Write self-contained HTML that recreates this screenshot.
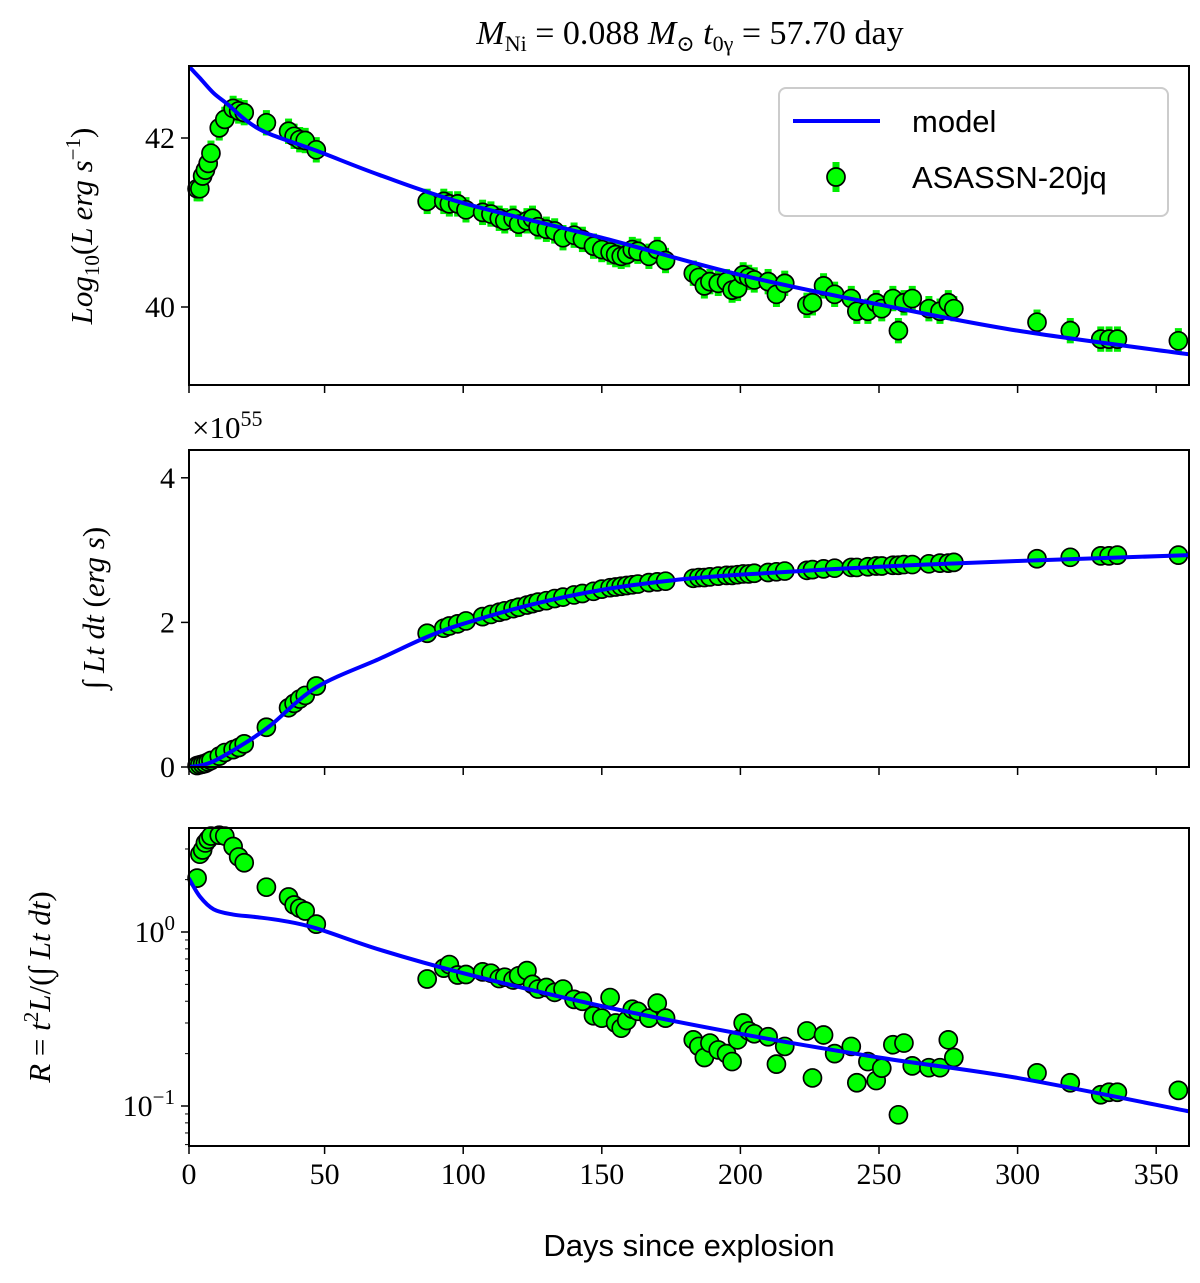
<!DOCTYPE html>
<html><head><meta charset="utf-8"><style>
body{margin:0;background:#fff}
svg text{font-family:"Liberation Serif","DejaVu Serif",serif;fill:#000}
</style></head><body>
<svg id="fig" width="1200" height="1278" viewBox="0 0 1200 1278" xmlns="http://www.w3.org/2000/svg">
<g id="g1"></g>
<g id="g2"></g>
<g id="g3"></g>
<text x="690" y="44" font-size="34" text-anchor="middle"><tspan font-style="italic">M</tspan><tspan font-size="22" dy="7">Ni</tspan><tspan dy="-7"> = 0.088 </tspan><tspan font-style="italic">M</tspan><tspan font-size="22" dy="7">⊙</tspan><tspan dy="-7">   </tspan><tspan font-style="italic">t</tspan><tspan font-size="22" dy="7">0γ</tspan><tspan dy="-7"> = 57.70 day</tspan></text>
<text x="689" y="1256" font-size="31" text-anchor="middle" style="font-family:'Liberation Sans',sans-serif">Days since explosion</text>
<text transform="translate(92,226) rotate(-90)" font-size="31" text-anchor="middle"><tspan font-style="italic">Log</tspan><tspan font-size="21" dy="7">10</tspan><tspan dy="-7">(</tspan><tspan font-style="italic">L erg s</tspan><tspan font-size="21" dy="-12">−1</tspan><tspan dy="12">)</tspan></text>
<text transform="translate(104,608) rotate(-90)" font-size="31" text-anchor="middle">∫ <tspan font-style="italic">Lt dt</tspan> (<tspan font-style="italic">erg s</tspan>)</text>
<text transform="translate(50,987) rotate(-90)" font-size="31" text-anchor="middle"><tspan font-style="italic">R</tspan> = <tspan font-style="italic">t</tspan><tspan font-size="21" dy="-12">2</tspan><tspan dy="12" font-style="italic">L</tspan>/(∫ <tspan font-style="italic">Lt dt</tspan>)</text>
<text x="192" y="438" font-size="31">×10<tspan font-size="22" dy="-12">55</tspan></text>
</svg>
<script>
const days=[4,5,6,7,8,9,12,14,17,19,21,29,37,39,41,43,47,87,93,95,98,101,107,110,113,115,118,120,123,125,127,130,133,136,140,143,147,150,153,155,157,159,161,163,167,170,173,183,185,187,189,192,195,197,199,201,203,205,210,213,216,224,226,230,234,240,242,246,249,251,255,257,259,262,268,272,275,277,307,319,330,333,336,358];
const logL=[41.40,41.40,41.55,41.62,41.70,41.82,42.12,42.22,42.35,42.32,42.30,42.18,42.08,42.02,41.98,41.97,41.86,41.25,41.25,41.22,41.22,41.15,41.12,41.10,41.05,41.02,41.05,40.98,41.02,41.05,40.95,40.92,40.90,40.82,40.85,40.80,40.72,40.68,40.65,40.62,40.60,40.62,40.68,40.66,40.60,40.68,40.55,40.40,40.35,40.25,40.30,40.28,40.30,40.20,40.22,40.38,40.35,40.32,40.30,40.15,40.28,40.02,40.05,40.25,40.15,40.10,39.95,39.95,40.05,39.98,40.10,39.72,40.05,40.10,39.98,39.95,40.05,39.98,39.82,39.72,39.62,39.62,39.62,39.60];
const intLt=[0.02,0.03,0.04,0.05,0.07,0.09,0.15,0.2,0.24,0.27,0.32,0.55,0.82,0.88,0.94,0.99,1.12,1.85,1.92,1.95,1.98,2.02,2.08,2.11,2.14,2.16,2.19,2.21,2.24,2.26,2.28,2.3,2.33,2.35,2.38,2.4,2.43,2.46,2.48,2.49,2.5,2.51,2.52,2.53,2.55,2.56,2.57,2.61,2.62,2.62,2.63,2.64,2.65,2.65,2.66,2.67,2.67,2.68,2.69,2.7,2.71,2.72,2.73,2.74,2.75,2.76,2.76,2.77,2.78,2.78,2.79,2.79,2.8,2.8,2.81,2.82,2.82,2.83,2.88,2.9,2.92,2.92,2.93,2.93];
const ratioR=[2.04,2.8,2.96,3.25,3.4,3.56,3.6,3.56,3.1,2.7,2.5,1.81,1.59,1.43,1.37,1.32,1.11,0.537,0.62,0.65,0.566,0.57,0.59,0.58,0.54,0.55,0.53,0.56,0.6,0.5,0.47,0.48,0.45,0.47,0.41,0.40,0.33,0.32,0.42,0.30,0.28,0.31,0.36,0.35,0.32,0.39,0.32,0.24,0.22,0.19,0.23,0.21,0.20,0.18,0.24,0.30,0.27,0.26,0.25,0.174,0.22,0.27,0.145,0.256,0.2,0.22,0.136,0.18,0.14,0.165,0.225,0.089,0.23,0.17,0.166,0.166,0.24,0.19,0.155,0.136,0.116,0.12,0.12,0.123];
const logLErr=[0.15];
const modelDays1=[1,3,5,10,15,22,30,47,70,100,150,200,250,300,362];
const modelLogL=[42.85,42.78,42.71,42.53,42.40,42.20,42.05,41.85,41.56,41.23,40.82,40.38,40.03,39.72,39.44];
const modelDays2=[1,5,10,20,30,47,70,87,100,125,150,175,200,250,300,362];
const modelInt=[0,0.02,0.08,0.3,0.56,1.1,1.5,1.8,1.98,2.25,2.45,2.58,2.66,2.77,2.85,2.93];
const modelDays3=[1,5,10,17,25,35,47,70,100,150,200,250,300,362];
const modelR=[2.04,1.6,1.35,1.26,1.22,1.16,1.05,0.79,0.58,0.375,0.26,0.19,0.145,0.093];
const xTicks=[0,50,100,150,200,250,300,350];

const NS='http://www.w3.org/2000/svg';
function mk(tag,attrs,parent){const e=document.createElementNS(NS,tag);for(const k in attrs)e.setAttribute(k,attrs[k]);parent.appendChild(e);return e;}
const L=189,R=1189;
const xs=d=>186+d*2.772;
const panels=[
 {g:'g1',top:66,bot:385,y:v=>138-(v-42)*84.5},
 {g:'g2',top:450,bot:767,y:v=>767-v*72.3},
 {g:'g3',top:828,bot:1146,y:v=>932-Math.log10(v)*174}
];
panels.forEach((p,i)=>{const cp=mk('clipPath',{id:'cp'+i},document.getElementById('fig'));mk('rect',{x:L,y:p.top,width:R-L,height:p.bot-p.top},cp);});
function frame(p,g,i){
 const r=mk('rect',{x:L,y:p.top,width:R-L,height:p.bot-p.top,fill:'none',stroke:'#000','stroke-width':2},g);
 
 
 xTicks.forEach(t=>{const x=Math.max(xs(t),L);
  const tk=mk('line',{x1:x,x2:x,y1:p.bot,y2:p.bot+8,stroke:'#000','stroke-width':1.5},g);
  
  
  if(i===2){const tl=mk('text',{x:x,y:p.bot+38,'font-size':30,'text-anchor':'middle'},g);tl.textContent=t;
   
   }
 });
}
function ytick(g,y,label,major){
 const t=mk('line',{x1:L-(major?8:4),x2:L,y1:y,y2:y,stroke:'#000','stroke-width':major?1.5:1},g);
 
 
 if(label!=null){const tl=mk('text',{x:L-14,y:y+10,'font-size':30,'text-anchor':'end'},g);tl.innerHTML=String(label);
  
  }
}
function smoothPath(P){
 let d='M'+P[0][0]+','+P[0][1];
 for(let k=0;k<P.length-1;k++){
  const p0=P[Math.max(k-1,0)],p1=P[k],p2=P[k+1],p3=P[Math.min(k+2,P.length-1)];
  const c1x=p1[0]+(p2[0]-p0[0])/6,c1y=p1[1]+(p2[1]-p0[1])/6;
  const c2x=p2[0]-(p3[0]-p1[0])/6,c2y=p2[1]-(p3[1]-p1[1])/6;
  d+=' C'+c1x+','+c1y+' '+c2x+','+c2y+' '+p2[0]+','+p2[1];
 }
 return d;
}
function modelLine(g,p,i,dd,vv){
 const P=dd.map((d,k)=>[xs(d),p.y(vv[k])]);
 const pl=mk('path',{d:smoothPath(P),fill:'none',stroke:'#0000ff','stroke-width':4,'clip-path':'url(#cp'+i+')','stroke-linejoin':'round'},g);
 
 
}
function markers(g,p,vals,err){
 if(err) vals.forEach((v,k)=>{const x=xs(days[k]);
  const e=mk('rect',{x:x-3.5,y:p.y(v+err),width:7,height:p.y(v-err)-p.y(v+err),fill:'#00ee00'},g);
  
  
 });
 vals.forEach((v,k)=>{const c=mk('circle',{cx:xs(days[k]),cy:p.y(v),r:9,fill:'#00ff00',stroke:'#000','stroke-width':1.7},g);
  
  });
}
{const p=panels[0],g=document.getElementById('g1');
 markers(g,p,logL,logLErr[0]);modelLine(g,p,0,modelDays1,modelLogL);
 [40,42].forEach(v=>ytick(g,p.y(v),v,true));frame(p,g,0);
 const lg=mk('g',{},g);
 mk('rect',{x:779,y:88,width:389,height:128,rx:7,fill:'#fff','fill-opacity':0.85,stroke:'#ccc','stroke-width':2},lg);
 const ll=mk('line',{x1:793,x2:880,y1:121,y2:121,stroke:'#0000ff','stroke-width':4},lg);
 
 const t1=mk('text',{x:912,y:132,'font-size':31,style:"font-family:'Liberation Sans',sans-serif"},lg);t1.textContent='model';
 mk('rect',{x:832.5,y:162,width:7,height:30,fill:'#00ee00'},lg);
 const lc=mk('circle',{cx:836,cy:177,r:9,fill:'#00ff00',stroke:'#000','stroke-width':1.7},lg);
 
 const t2=mk('text',{x:912,y:188,'font-size':31,style:"font-family:'Liberation Sans',sans-serif"},lg);t2.textContent='ASASSN-20jq';
}
{const p=panels[1],g=document.getElementById('g2');
 markers(g,p,intLt,0);modelLine(g,p,1,modelDays2,modelInt);
 [0,2,4].forEach(v=>ytick(g,p.y(v),v,true));frame(p,g,1);}
{const p=panels[2],g=document.getElementById('g3');
 markers(g,p,ratioR,0);modelLine(g,p,2,modelDays3,modelR);
 ytick(g,p.y(1),'10<tspan font-size="21" dy="-12">0</tspan>',true);
 ytick(g,p.y(0.1),'10<tspan font-size="21" dy="-12">−1</tspan>',true);
 [0.06,0.07,0.08,0.09,0.2,0.3,0.4,0.5,0.6,0.7,0.8,0.9,2,3].forEach(v=>ytick(g,p.y(v),null,false));
 frame(p,g,2);}
</script>
</body></html>
